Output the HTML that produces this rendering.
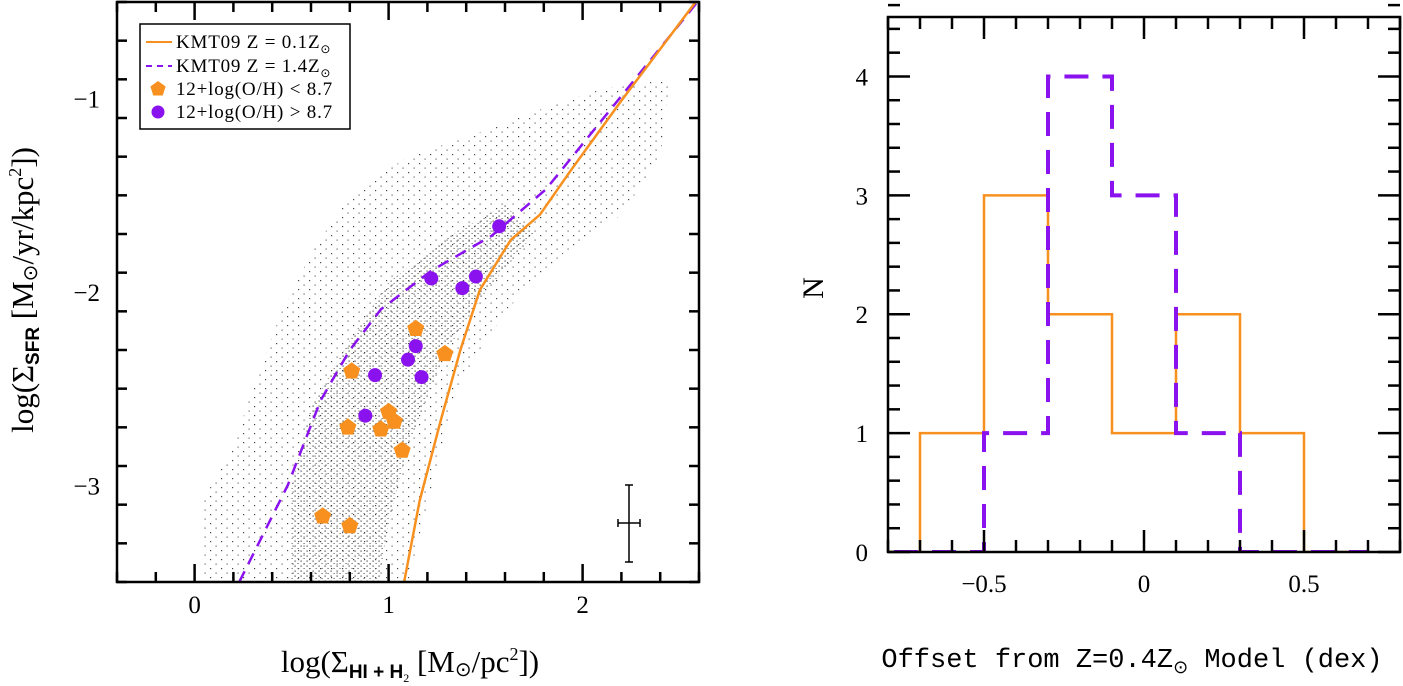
<!DOCTYPE html>
<html><head><meta charset="utf-8"><style>
body{margin:0;background:#fff;}
svg{display:block;font-family:"Liberation Serif",serif;}
</style></head><body>
<svg id="fig" width="1403" height="686" viewBox="0 0 1403 686" xmlns="http://www.w3.org/2000/svg">
<defs>
<pattern id="sparse" width="11" height="9" patternUnits="userSpaceOnUse"><rect x="1" y="1" width="1.2" height="1.2" fill="#444"/><rect x="6.5" y="5.5" width="1.2" height="1.2" fill="#666"/></pattern>
<pattern id="dense" width="6" height="5" patternUnits="userSpaceOnUse"><rect x="0.5" y="0.5" width="1.2" height="1.2" fill="#444"/><rect x="3.5" y="3" width="1.2" height="1" fill="#666"/></pattern>
<clipPath id="clipL"><rect x="117" y="2" width="582" height="580"/></clipPath>
<clipPath id="clipR"><rect x="888" y="17" width="512" height="535"/></clipPath>
</defs>
<g id="left"></g>
<g id="right"></g>
</svg>
<script>
// ---------- left panel data ----------
const cloudOuter = [[0.05,-3.5],[0.03,-3.1],[0.2,-2.8],[0.3,-2.5],[0.45,-2.1],[0.6,-1.8],[0.8,-1.5],[1.1,-1.3],[1.4,-1.2],[1.8,-1.05],[2.1,-0.95],[2.45,-0.9],[2.4,-1.3],[2.2,-1.6],[1.9,-1.8],[1.6,-2.1],[1.35,-2.5],[1.25,-2.9],[1.15,-3.3],[1.1,-3.5]];
const cloudCore = [[0.5,-3.5],[0.5,-3.0],[0.6,-2.6],[0.8,-2.25],[1.0,-1.95],[1.3,-1.72],[1.6,-1.55],[1.75,-1.7],[1.5,-2.0],[1.3,-2.3],[1.1,-2.8],[1.0,-3.2],[0.95,-3.5]];
const modelHighX = [0.23,0.48,0.65,0.80,0.96,1.22,1.53,1.81,2.6];
const modelHighY = [-3.5,-3.0,-2.56,-2.30,-2.09,-1.89,-1.71,-1.47,-0.49];
const modelLowX = [1.08,1.16,1.27,1.37,1.47,1.63,1.78,1.94,2.2,2.59];
const modelLowY = [-3.5,-3.08,-2.66,-2.30,-1.99,-1.73,-1.60,-1.37,-1.01,-0.49];
const lowZX = [0.81,0.79,0.96,1.00,1.03,1.07,1.14,1.29,0.66,0.80];
const lowZY = [-2.41,-2.70,-2.71,-2.62,-2.67,-2.82,-2.19,-2.32,-3.16,-3.21];
const highZX = [1.57,1.22,1.45,1.38,1.14,1.10,0.93,1.17,0.88];
const highZY = [-1.66,-1.93,-1.92,-1.98,-2.28,-2.35,-2.43,-2.44,-2.64];
const xTicksL = [0,1,2];
const yTicksL = [-1,-2,-3];
// ---------- right panel data ----------
const binEdges = [-0.9,-0.7,-0.5,-0.3,-0.1,0.1,0.3,0.5,0.7];
const countsLow = [0,1,3,2,1,2,1,0];
const countsHigh = [0,0,1,4,3,1,0,0];
const xTicksR = [-0.5,0,0.5];
const xTickLabelsR = ["\u22120.5","0","0.5"];
const yTicksR = [0,1,2,3,4];

const NS="http://www.w3.org/2000/svg";
function mk(parent,tag,attrs){const e=document.createElementNS(NS,tag);for(const k in attrs)e.setAttribute(k,attrs[k]);parent.appendChild(e);return e;}
const ORANGE="#f7901e", PURPLE="#8a12ee";

// ---- left axes ----
const L={x0:117,x1:699,y0:2,y1:582,xmin:-0.4,xmax:2.6,ymin:-3.5,ymax:-0.5};
const lx=v=>L.x0+(v-L.xmin)/(L.xmax-L.xmin)*(L.x1-L.x0);
const ly=v=>L.y1-(v-L.ymin)/(L.ymax-L.ymin)*(L.y1-L.y0);
const gl=document.getElementById('left');
const gc=mk(gl,'g',{'clip-path':'url(#clipL)'});


let p=mk(gc,'polygon',{points:cloudOuter.map(d=>lx(d[0])+','+ly(d[1])).join(' '),fill:'url(#sparse)'});


p=mk(gc,'polygon',{points:cloudCore.map(d=>lx(d[0])+','+ly(d[1])).join(' '),fill:'url(#dense)'});


p=mk(gc,'polyline',{points:modelHighX.map((x,i)=>lx(x)+','+ly(modelHighY[i])).join(' '),fill:'none',stroke:PURPLE,'stroke-width':2.5,'stroke-dasharray':'12 8'});


p=mk(gc,'polyline',{points:modelLowX.map((x,i)=>lx(x)+','+ly(modelLowY[i])).join(' '),fill:'none',stroke:ORANGE,'stroke-width':2.5});


function pent(cx,cy,r){let s=[];for(let k=0;k<5;k++){const a=-Math.PI/2+k*2*Math.PI/5;s.push((cx+r*Math.cos(a)).toFixed(1)+','+(cy+r*Math.sin(a)).toFixed(1));}return s.join(' ');}
lowZX.forEach((x,i)=>{const e=mk(gc,'polygon',{points:pent(lx(x),ly(lowZY[i]),9),fill:ORANGE});

});
highZX.forEach((x,i)=>{const e=mk(gc,'circle',{cx:lx(x),cy:ly(highZY[i]),r:7,fill:PURPLE});

});
// error bar
const eb=mk(gl,'g',{stroke:'#000','stroke-width':1.5});


mk(eb,'line',{x1:629,y1:485,x2:629,y2:562});mk(eb,'line',{x1:625,y1:485,x2:633,y2:485});mk(eb,'line',{x1:625,y1:562,x2:633,y2:562});
mk(eb,'line',{x1:618,y1:523,x2:640,y2:523});mk(eb,'line',{x1:618,y1:519,x2:618,y2:527});mk(eb,'line',{x1:640,y1:519,x2:640,y2:527});
// frame and ticks
function frame(g,A,fx,fy,xMinor,xMajor,yMinor,yMajor,majL,minL){
  const f=mk(g,'rect',{x:A.x0,y:A.y0,width:A.x1-A.x0,height:A.y1-A.y0,fill:'none',stroke:'#000','stroke-width':2.5});
  
  
  const t=mk(g,'g',{stroke:'#000','stroke-width':2.5});
  
  
  const n=Math.round((A.xmax-A.xmin)/xMinor);
  for(let i=0;i<=n;i++){const v=A.xmin+i*xMinor;const maj=Math.abs(v/xMajor-Math.round(v/xMajor))<1e-6;const len=maj?majL:minL;const X=fx(v);
    mk(t,'line',{x1:X,y1:A.y1,x2:X,y2:A.y1-len});mk(t,'line',{x1:X,y1:A.y0,x2:X,y2:A.y0+len});}
  const m=Math.round((A.ymax-A.ymin)/yMinor);
  for(let i=0;i<=m;i++){const v=A.ymin+i*yMinor;const maj=Math.abs(v/yMajor-Math.round(v/yMajor))<1e-6;const len=maj?majL:minL;const Y=fy(v);
    mk(t,'line',{x1:A.x0,y1:Y,x2:A.x0+len,y2:Y});mk(t,'line',{x1:A.x1,y1:Y,x2:A.x1-len,y2:Y});}
}
frame(gl,L,lx,ly,0.2,1,0.2,1,18,10);
xTicksL.forEach(v=>{const e=mk(gl,'text',{x:lx(v),y:613,'font-size':25,'text-anchor':'middle'});e.textContent=String(v);

});
yTicksL.forEach(v=>{const e=mk(gl,'text',{x:100,y:ly(v)+9,'font-size':25,'text-anchor':'end'});e.textContent='\u2212'+Math.abs(v);

});
// legend
const lg=mk(gl,'g',{});


mk(lg,'rect',{x:140,y:24,width:210,height:105,fill:'#fff',stroke:'#000','stroke-width':1.5});
mk(lg,'line',{x1:146,y1:42,x2:172,y2:42,stroke:ORANGE,'stroke-width':2});
mk(lg,'line',{x1:146,y1:66,x2:172,y2:66,stroke:PURPLE,'stroke-width':2,'stroke-dasharray':'6 5'});
mk(lg,'polygon',{points:pent(158,89,8),fill:ORANGE});
mk(lg,'circle',{cx:158,cy:112,r:6.5,fill:PURPLE});
const legTexts=[['KMT09 Z = 0.1Z','\u2299',48],['KMT09 Z = 1.4Z','\u2299',72],['12+log(O/H) < 8.7','',95],['12+log(O/H) > 8.7','',118]];
legTexts.forEach(l=>{const e=mk(lg,'text',{x:176,y:l[2],'font-size':19,'letter-spacing':'0.8','xml:space':'preserve'});e.textContent=l[0];
 if(l[1]){const s=mk(e,'tspan',{'font-size':12,dy:5});s.textContent=l[1];}
 
 });
// axis titles
let xt=mk(gl,'text',{x:410,y:672,'font-size':31,'text-anchor':'middle'});
xt.innerHTML='log(\u03A3<tspan font-size="19" dy="6" font-family="Liberation Sans" font-weight="bold">HI + H</tspan><tspan font-size="12" dy="4">2</tspan><tspan dy="-10"> [M</tspan><tspan font-size="20" dy="4">\u2299</tspan><tspan dy="-4">/pc</tspan><tspan font-size="18" dy="-12">2</tspan><tspan dy="12">])</tspan>';


let yt=mk(gl,'text',{x:0,y:0,'font-size':31,'text-anchor':'middle',transform:'translate(33,290) rotate(-90)'});
yt.innerHTML='log(\u03A3<tspan font-size="19" dy="6" font-family="Liberation Sans" font-weight="bold">SFR</tspan><tspan dy="-6"> [M</tspan><tspan font-size="20" dy="4">\u2299</tspan><tspan dy="-4">/yr/kpc</tspan><tspan font-size="18" dy="-12">2</tspan><tspan dy="12">])</tspan>';



// ---- right panel ----
const R={x0:888,x1:1400,y0:17,y1:552,xmin:-0.8,xmax:0.8,ymin:0,ymax:4.5};
const rx=v=>R.x0+(v-R.xmin)/(R.xmax-R.xmin)*(R.x1-R.x0);
const ry=v=>R.y1-(v-R.ymin)/(R.ymax-R.ymin)*(R.y1-R.y0);
const gr=document.getElementById('right');
const hc=mk(gr,'g',{'clip-path':'url(#clipR)'});
function stepPts(counts){let pts=[];counts.forEach((c,i)=>{pts.push(rx(binEdges[i])+','+ry(c));pts.push(rx(binEdges[i+1])+','+ry(c));});return pts.join(' ');}
let h=mk(hc,'polyline',{points:stepPts(countsLow),fill:'none',stroke:ORANGE,'stroke-width':2.5});


h=mk(hc,'polyline',{points:stepPts(countsHigh),fill:'none',stroke:PURPLE,'stroke-width':4,'stroke-dasharray':'24 14'});


frame(gr,R,rx,ry,0.1,0.5,0.2,1,22,12);
xTicksR.forEach((v,i)=>{const e=mk(gr,'text',{x:rx(v),y:592,'font-size':25,'text-anchor':'middle'});e.textContent=xTickLabelsR[i];

});
yTicksR.forEach(v=>{const e=mk(gr,'text',{x:868,y:ry(v)+9,'font-size':25,'text-anchor':'end'});e.textContent=String(v);

});
let nt=mk(gr,'text',{x:0,y:0,'font-size':30,'text-anchor':'middle',transform:'translate(823,288) rotate(-90)'});nt.textContent='N';


let ot=mk(gr,'text',{x:1132,y:667,'font-size':27,'text-anchor':'middle','font-family':'Liberation Mono'});
ot.innerHTML='Offset from Z=0.4Z<tspan font-size="18" dy="6">\u2299</tspan><tspan dy="-6"> Model (dex)</tspan>';


</script>
</body></html>
